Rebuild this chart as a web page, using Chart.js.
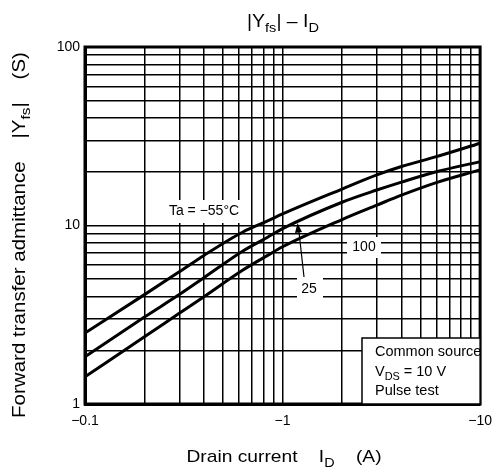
<!DOCTYPE html>
<html>
<head>
<meta charset="utf-8">
<script src="https://cdn.jsdelivr.net/npm/chart.js@4.4.1/dist/chart.umd.min.js"></script>
<style>
  html, body { margin: 0; padding: 0; background: #fff; }
</style>
</head>
<body>
<canvas id="chart" width="501" height="470"></canvas>
<script>
// values (|ID| in A, |Yfs| in S)
const drainCurrent = [0.1, 0.2, 0.3, 0.4, 0.63, 0.84, 1, 2, 3, 4, 6, 10];
const yfsMinus55 = [2.5, 4.1, 5.5, 6.8, 9.2, 10.6, 11.6, 16, 19.2, 21.4, 24.3, 28.9];
const yfs25 = [1.84, 3.07, 4.1, 5.1, 7.2, 8.6, 9.6, 13.5, 15.8, 17.5, 20, 22.8];
const yfs100 = [1.42, 2.38, 3.22, 3.99, 5.63, 6.8, 7.6, 10.8, 13.0, 14.8, 17.4, 20.5];
const xTicks = [0.1, 1, 10];
const xTickLabels = ['\u22120.1', '\u22121', '\u221210'];
const yTicks = [1, 10, 100];
const yTickLabels = ['1', '10', '100'];

const FONT = '"Liberation Sans", Arial, sans-serif';

function toPoints(ys) {
  return drainCurrent.map((x, i) => ({ x: x, y: ys[i] }));
}

function pickLabel(value, ticks, labels) {
  const i = ticks.findIndex(t => Math.abs(t - value) / t < 1e-6);
  return i >= 0 ? labels[i] : '';
}

// 1..9 in every decade between the labelled ticks
function decadeTicks(majors) {
  const out = [];
  for (let i = 0; i < majors.length - 1; i++) {
    for (let k = 1; k < 10; k++) out.push({ value: +(majors[i] * k).toPrecision(6) });
  }
  out.push({ value: majors[majors.length - 1] });
  return out;
}

// draws text made of normal / subscript parts
function richText(ctx, parts, x, y, size, align, stretch) {
  stretch = stretch || 1;
  const subSize = size * 0.75;
  let w = 0;
  parts.forEach(p => {
    ctx.font = (p[1] ? subSize : size) + 'px ' + FONT;
    w += ctx.measureText(p[0]).width;
  });
  ctx.save();
  ctx.translate(x, y);
  ctx.scale(stretch, 1);
  let cx = align === 'center' ? -w / 2 : 0;
  ctx.textAlign = 'left';
  ctx.textBaseline = 'alphabetic';
  parts.forEach(p => {
    ctx.font = (p[1] ? subSize : size) + 'px ' + FONT;
    ctx.fillText(p[0], cx, p[1] ? size * 0.3 : 0);
    cx += ctx.measureText(p[0]).width;
  });
  ctx.restore();
}

function label(ctx, text, x, y, box) {
  ctx.fillStyle = '#fff';
  ctx.fillRect(box[0], box[1], box[2], box[3]);
  ctx.fillStyle = '#000';
  ctx.font = '14px ' + FONT;
  ctx.textAlign = 'center';
  ctx.textBaseline = 'middle';
  ctx.fillText(text, x, y);
}

const annotations = {
  id: 'annotations',
  afterDraw(chart) {
    const ctx = chart.ctx;
    const a = chart.chartArea;
    ctx.save();

    // frame
    ctx.strokeStyle = '#000';
    ctx.lineWidth = 3;
    ctx.strokeRect(a.left, a.top, a.right - a.left, a.bottom - a.top);

    // curve labels
    label(ctx, 'Ta = \u221255\u00b0C', 204, 211, [162, 200, 85, 23]);
    label(ctx, '100', 364, 247, [347, 237, 34, 21]);
    label(ctx, '25', 309, 289, [297, 278, 26, 21]);

    // arrow for 25
    ctx.strokeStyle = '#000';
    ctx.lineWidth = 1.2;
    ctx.beginPath();
    ctx.moveTo(304, 277);
    ctx.lineTo(299, 232);
    ctx.stroke();
    ctx.fillStyle = '#000';
    ctx.beginPath();
    ctx.moveTo(297.5, 223);
    ctx.lineTo(295, 233);
    ctx.lineTo(302, 232);
    ctx.closePath();
    ctx.fill();

    // conditions box
    ctx.fillStyle = '#fff';
    ctx.fillRect(362, 338, a.right - 362, a.bottom - 338);
    ctx.lineWidth = 1.5;
    ctx.strokeRect(362, 338, a.right - 362, a.bottom - 338);
    ctx.fillStyle = '#000';
    richText(ctx, [['Common source']], 375, 356, 14.5, 'left');
    richText(ctx, [['V'], ['DS', 1], [' = 10 V']], 375, 376, 14.5, 'left');
    richText(ctx, [['Pulse test']], 375, 395, 14.5, 'left');

    // title
    richText(ctx, [['|Y'], ['fs', 1], ['| \u2013 I'], ['D', 1]], 283, 27, 18, 'center', 1.08);

    // x axis title
    richText(ctx, [['Drain current    I'], ['D', 1], ['    (A)']], 284, 462, 17, 'center', 1.13);

    // y axis title
    ctx.save();
    ctx.translate(25, 235);
    ctx.rotate(-Math.PI / 2);
    richText(ctx, [['Forward transfer admittance    |Y'], ['fs', 1], ['|    (S)']], 0, 0, 18, 'center', 1.14);
    ctx.restore();

    ctx.restore();
  }
};

new Chart(document.getElementById('chart'), {
  type: 'line',
  data: {
    datasets: [
      { label: 'Ta = -55°C', data: toPoints(yfsMinus55) },
      { label: 'Ta = 25°C', data: toPoints(yfs25) },
      { label: 'Ta = 100°C', data: toPoints(yfs100) }
    ].map(d => Object.assign(d, {
      borderColor: '#000',
      borderWidth: 3,
      pointRadius: 0,
      fill: false,
      cubicInterpolationMode: 'monotone'
    }))
  },
  options: {
    responsive: false,
    animation: false,
    layout: { padding: { top: 47, right: 16, left: 0, bottom: 0 } },
    plugins: { legend: { display: false }, tooltip: { enabled: false } },
    scales: {
      x: {
        type: 'logarithmic',
        min: 0.1,
        max: 10,
        afterBuildTicks: s => { s.ticks = decadeTicks(xTicks); },
        afterFit: s => { s.height = 66; },
        grid: { color: '#000', lineWidth: 1.5, drawTicks: false },
        border: { color: '#000', width: 3 },
        ticks: {
          autoSkip: false,
          maxRotation: 0,
          color: '#000',
          padding: 9,
          font: { family: FONT, size: 14 },
          callback: v => pickLabel(v, xTicks, xTickLabels)
        }
      },
      y: {
        type: 'logarithmic',
        min: 1,
        max: 100,
        afterBuildTicks: s => { s.ticks = decadeTicks(yTicks); },
        afterFit: s => { s.width = 85; },
        grid: { color: '#000', lineWidth: 1.5, drawTicks: false },
        border: { color: '#000', width: 3 },
        ticks: {
          autoSkip: false,
          color: '#000',
          padding: 5,
          font: { family: FONT, size: 14 },
          callback: v => pickLabel(v, yTicks, yTickLabels)
        }
      }
    }
  },
  plugins: [annotations]
});
</script>
</body>
</html>
